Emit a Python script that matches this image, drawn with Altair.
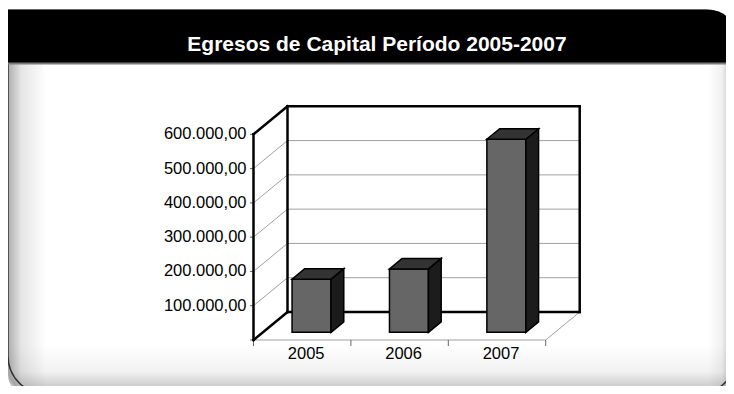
import altair as alt
import pandas as pd

# ---------------- data ----------------
years = ["2005", "2006", "2007"]
values = [155000, 185000, 563000]
y_tick_values = [0, 100000, 200000, 300000, 400000, 500000, 600000]
y_tick_labels = ["", "100.000,00", "200.000,00", "300.000,00", "400.000,00", "500.000,00", "600.000,00"]
grid_values = [100000, 200000, 300000, 400000, 500000]
title_text = "Egresos de Capital Período 2005-2007"

# ---------------- geometry (styles / layout) ----------------
SVG_W, SVG_H = 718, 378
PAD_L = 245.5                 # front value axis sits at the plot's left edge
PAD_B = 46                    # zero line sits at the plot's bottom edge
W, H = SVG_W - PAD_L, SVG_H - PAD_B
PX_PER_CAT = 97.4
PX_PER_VAL = 205.7 / 600000
x_domain = [0, W / PX_PER_CAT]
y_domain = [0, H / PX_PER_VAL]
DX = 34 / PX_PER_CAT      # depth of the box in category units
DY = 28 / PX_PER_VAL      # depth of the box in value units
YMAX = 600000
NCAT = len(years)
BAR_HALF, D_FRONT, D_BACK = 0.2, 0.275, 0.65
Y_TICK = 3.5 / PX_PER_CAT     # tick length, category units
X_TICK = 6 / PX_PER_VAL       # tick length, value units
FONT = "Liberation Sans, Arial, sans-serif"


def px(svg_x):
    """svg x -> plot-group x (decoration only)"""
    return svg_x - PAD_L


xs = alt.Scale(domain=x_domain, nice=False, zero=False)
ys = alt.Scale(domain=y_domain, nice=False, zero=False)


def X(field):
    return alt.X(field, scale=xs, axis=None)


def Y(field):
    return alt.Y(field, scale=ys, axis=None)


# ---------------- tables ----------------
thin, thick, ticks = [], [], []
for v in grid_values:
    thin.append(dict(x=DX, y=v + DY, x2=NCAT + DX, y2=v + DY))
    thin.append(dict(x=0, y=v, x2=DX, y2=v + DY))
thin.append(dict(x=0, y=0, x2=NCAT, y2=0))
thin.append(dict(x=NCAT, y=0, x2=NCAT + DX, y2=DY))
thick += [
    dict(x=0, y=0, x2=0, y2=YMAX),
    dict(x=0, y=YMAX, x2=DX, y2=YMAX + DY),
    dict(x=0, y=0, x2=DX, y2=DY),
    dict(x=DX, y=DY, x2=DX, y2=YMAX + DY),
    dict(x=DX, y=YMAX + DY, x2=NCAT + DX, y2=YMAX + DY),
    dict(x=NCAT + DX, y=DY, x2=NCAT + DX, y2=YMAX + DY),
    dict(x=DX, y=DY, x2=NCAT + DX, y2=DY),
]
for v in y_tick_values:
    ticks.append(dict(x=-Y_TICK, y=v, x2=0, y2=v))
for i in range(NCAT + 1):
    ticks.append(dict(x=i, y=-X_TICK, x2=i, y2=0))
thin_df, thick_df, ticks_df = pd.DataFrame(thin), pd.DataFrame(thick), pd.DataFrame(ticks)

ylab_df = pd.DataFrame({"x": 0, "y": y_tick_values, "label": y_tick_labels})
xlab_df = pd.DataFrame({"x": [i + 0.5 for i in range(NCAT)], "y": 0, "label": years})

front, side, top = [], [], []
for i, (yr, v) in enumerate(zip(years, values)):
    c = i + 0.5
    front.append(dict(bar=yr, x=c - BAR_HALF + DX * D_FRONT, x2=c + BAR_HALF + DX * D_FRONT,
                      y=DY * D_FRONT, y2=v + DY * D_FRONT))
    for d in (D_FRONT, D_BACK):
        side.append(dict(bar=yr, x=c + BAR_HALF + DX * d, top=v + DY * d, bot=DY * d))
        top.append(dict(bar=yr, y=v + DY * d, xl=c - BAR_HALF + DX * d, xr=c + BAR_HALF + DX * d))
front_df, side_df, top_df = pd.DataFrame(front), pd.DataFrame(side), pd.DataFrame(top)

one = pd.DataFrame({"k": [0]})

# ---------------- decoration (page frame) ----------------
PX0, PX1, PY0, PY1 = px(0), px(728), 2, 386

panel = alt.Chart(one).mark_rect(
    fill="white", cornerRadiusTopRight=30, cornerRadiusBottomLeft=38, cornerRadiusBottomRight=38
).encode(x=alt.value(PX0), x2=alt.value(PX1), y=alt.value(PY0), y2=alt.value(PY1))

left_shadow = alt.Chart(one).mark_rect(
    fill=alt.LinearGradient(gradient="linear", x1=0, x2=1, y1=0, y2=0, stops=[
        alt.GradientStop(color="rgba(0,0,0,0.32)", offset=0),
        alt.GradientStop(color="rgba(0,0,0,0.10)", offset=0.35),
        alt.GradientStop(color="rgba(0,0,0,0)", offset=1)]),
    cornerRadiusBottomLeft=38,
).encode(x=alt.value(PX0), x2=alt.value(px(38)), y=alt.value(56), y2=alt.value(PY1))

bottom_shadow = alt.Chart(one).mark_rect(
    fill=alt.LinearGradient(gradient="linear", x1=0, x2=0, y1=0, y2=1, stops=[
        alt.GradientStop(color="rgba(0,0,0,0)", offset=0),
        alt.GradientStop(color="rgba(0,0,0,0.05)", offset=0.55),
        alt.GradientStop(color="rgba(0,0,0,0.27)", offset=1)]),
    cornerRadiusBottomLeft=38,
).encode(x=alt.value(PX0), x2=alt.value(PX1), y=alt.value(336), y2=alt.value(PY1))

right_shadow = alt.Chart(one).mark_rect(
    fill=alt.LinearGradient(gradient="linear", x1=0, x2=1, y1=0, y2=0, stops=[
        alt.GradientStop(color="rgba(0,0,0,0)", offset=0),
        alt.GradientStop(color="rgba(0,0,0,0.06)", offset=0.5),
        alt.GradientStop(color="rgba(0,0,0,0.34)", offset=1)]),
).encode(x=alt.value(px(700)), x2=alt.value(PX1), y=alt.value(56), y2=alt.value(PY1))

outline = alt.Chart(one).mark_rect(
    filled=False, stroke="#333333", strokeWidth=1.5,
    cornerRadiusTopRight=30, cornerRadiusBottomLeft=38, cornerRadiusBottomRight=38
).encode(x=alt.value(PX0), x2=alt.value(PX1), y=alt.value(PY0), y2=alt.value(PY1))

title_bar = alt.Chart(one).mark_rect(fill="black", cornerRadiusTopRight=30).encode(
    x=alt.value(PX0), x2=alt.value(PX1), y=alt.value(PY0), y2=alt.value(55))

bar_line = alt.Chart(one).mark_rule(color="#7a7a7a", strokeWidth=2).encode(
    x=alt.value(PX0), x2=alt.value(PX1), y=alt.value(55.5))

# ---------------- chart frame, ticks and labels (through the scales) ----------------
thin_lines = alt.Chart(thin_df).mark_rule(color="#a0a0a0", strokeWidth=1).encode(
    x=X("x:Q"), y=Y("y:Q"), x2="x2:Q", y2="y2:Q")

tick_marks = alt.Chart(ticks_df).mark_rule(color="#666666", strokeWidth=1).encode(
    x=X("x:Q"), y=Y("y:Q"), x2="x2:Q", y2="y2:Q")

thick_lines = alt.Chart(thick_df).mark_rule(color="black", strokeWidth=2.5, strokeCap="square").encode(
    x=X("x:Q"), y=Y("y:Q"), x2="x2:Q", y2="y2:Q")

y_labels = alt.Chart(ylab_df).mark_text(
    align="right", baseline="middle", dx=-7, font=FONT, fontSize=16.5, color="black"
).encode(x=X("x:Q"), y=Y("y:Q"), text="label:N")

x_labels = alt.Chart(xlab_df).mark_text(
    align="center", baseline="top", dx=4, dy=6, font=FONT, fontSize=16.5, color="black"
).encode(x=X("x:Q"), y=Y("y:Q"), text="label:N")

front_faces = alt.Chart(front_df).mark_rect(fill="#666666", stroke="black", strokeWidth=1.5).encode(
    x=X("x:Q"), x2="x2:Q", y=Y("y:Q"), y2="y2:Q")

side_faces = alt.Chart(side_df).mark_area(
    fill="#1c1c1c", stroke="black", strokeWidth=1.5, orient="vertical", interpolate="linear"
).encode(x=X("x:Q"), y=Y("top:Q"), y2="bot:Q", detail="bar:N")

top_faces = alt.Chart(top_df).mark_area(
    fill="#333333", stroke="black", strokeWidth=1.5, orient="horizontal", interpolate="linear"
).encode(y=Y("y:Q"), x=X("xl:Q"), x2="xr:Q", detail="bar:N")

chart = alt.layer(
    panel, left_shadow, bottom_shadow, right_shadow, outline, title_bar, bar_line,
    thin_lines, tick_marks, thick_lines, y_labels, x_labels,
    front_faces, side_faces, top_faces,
).properties(
    width=W, height=H,
    autosize=alt.AutoSizeParams(type="none"),
    padding={"left": PAD_L, "top": 0, "right": 0, "bottom": PAD_B},
    title=alt.TitleParams(
        text=title_text, font=FONT,
        fontSize=21, fontWeight="bold", color="white", anchor="middle",
        baseline="alphabetic", frame="group", offset=0, dy=64, dx=369 - (PAD_L + W / 2),
    ),
).configure_view(strokeWidth=0)

chart.save("out.html", embed_options={"renderer": "svg", "actions": False})
